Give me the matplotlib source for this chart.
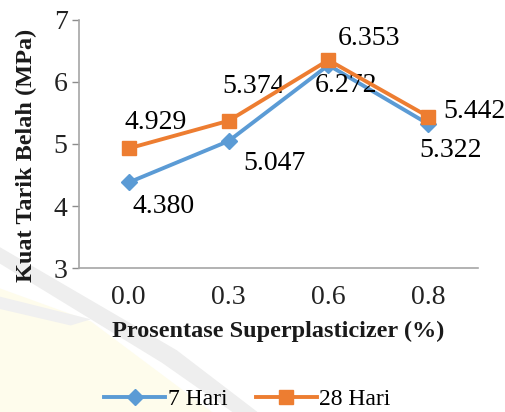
import matplotlib
matplotlib.use('Agg')
import matplotlib.pyplot as plt
from matplotlib.patches import Polygon

# data kuat tarik belah
kadar_sp = ["0.0", "0.3", "0.6", "0.8"]
hari_7 = [4.380, 5.047, 6.272, 5.322]
hari_28 = [4.929, 5.374, 6.353, 5.442]

plt.rcParams['font.family'] = ['Liberation Serif', 'DejaVu Serif']

fig = plt.figure(figsize=(5.05, 4.12), dpi=100)

# logo samar di latar belakang
fig.patches.append(Polygon([(0, 0), (0, 0.30), (0.18, 0.22), (0.42, 0.0)],
                           closed=True, transform=fig.transFigure,
                           facecolor='#fefcec', edgecolor='none', zorder=-5))
fig.patches.append(Polygon([(0, 0.40), (0, 0.36), (0.32, 0.12), (0.46, 0.0),
                            (0.51, 0.0), (0.35, 0.15)],
                           closed=True, transform=fig.transFigure,
                           facecolor='#eeeeee', edgecolor='none', zorder=-5))
fig.patches.append(Polygon([(0, 0.28), (0, 0.25), (0.14, 0.21), (0.18, 0.225)],
                           closed=True, transform=fig.transFigure,
                           facecolor='#f0f0f0', edgecolor='none', zorder=-5))

ax = fig.add_axes([0.156, 0.3495, 0.791, 0.602])
ax.patch.set_alpha(0)

x = range(len(kadar_sp))
biru = '#5b9bd5'
oranye = '#ed7d31'
ax.plot(x, hari_7, color=biru, lw=2.8, marker='D', ms=8, label='7 Hari', zorder=3)
ax.plot(x, hari_28, color=oranye, lw=2.8, marker='s', ms=10, label='28 Hari', zorder=4)

# label nilai (geser dalam piksel dari titik)
off_7 = [(4, -24), (15, -22), (-14, -20), (-9, -26)]
off_28 = [(-4, 26), (-6, 34), (9, 22), (15, 5)]
for i in x:
    dx, dy = off_7[i]
    ax.annotate(f"{hari_7[i]:.3f}", (i, hari_7[i]), xytext=(dx * 0.72, dy * 0.72),
                textcoords='offset points', ha='left', va='center', fontsize=20)
    dx, dy = off_28[i]
    ax.annotate(f"{hari_28[i]:.3f}", (i, hari_28[i]), xytext=(dx * 0.72, dy * 0.72),
                textcoords='offset points', ha='left', va='center', fontsize=20)

ax.set_xlim(-0.5, 3.5)
ax.set_ylim(3, 7)
ax.set_yticks([3, 4, 5, 6, 7])
ax.set_xticks(list(x))
ax.set_xticklabels(kadar_sp)
ax.tick_params(axis='both', labelsize=20, colors='#222222')
ax.tick_params(axis='x', length=0, pad=12)
ax.tick_params(axis='y', length=5, width=1, color='#8c8c8c', pad=3)

for s in ['top', 'right']:
    ax.spines[s].set_visible(False)
for s in ['left', 'bottom']:
    ax.spines[s].set_color('#a6a6a6')
    ax.spines[s].set_linewidth(1.2)

ax.set_xlabel('Prosentase Superplasticizer (%)', fontsize=17.5, fontweight='bold',
              labelpad=8, color='#1a1a1a')
ax.set_ylabel('Kuat Tarik Belah (MPa)', fontsize=17.5, fontweight='bold',
              color='#1a1a1a', va='center')
ax.yaxis.set_label_coords(-0.13, 0.455)

fig.legend(loc='center', bbox_to_anchor=(0.49, 0.03), ncol=2, frameon=False,
           fontsize=17, handlelength=2.6, handletextpad=0.1, columnspacing=1.2)

fig.savefig('out.png', dpi=100)
